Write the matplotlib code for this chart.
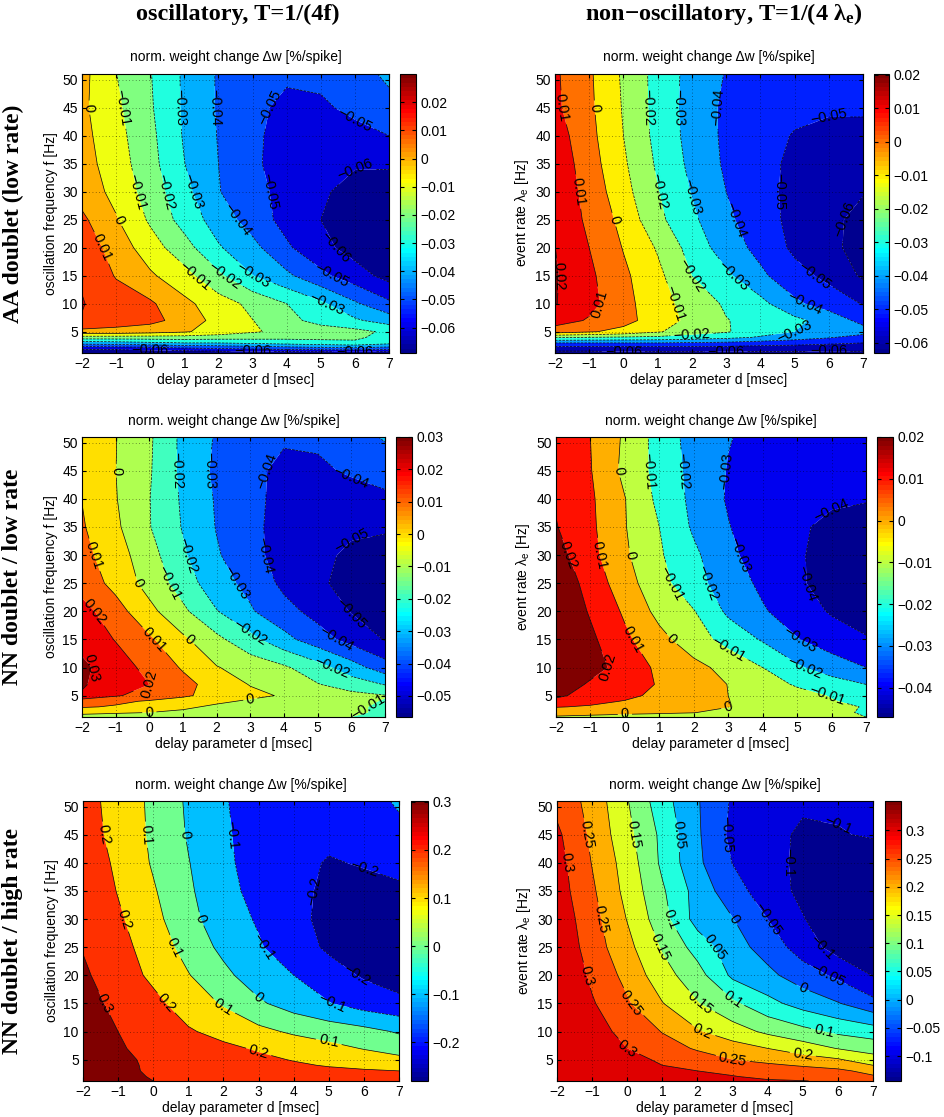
import numpy as np
import matplotlib
matplotlib.use('Agg')
import matplotlib.pyplot as plt
from matplotlib import colors as mcolors
from matplotlib.cm import ScalarMappable

plt.rcParams['font.family'] = ['Liberation Sans', 'DejaVu Sans']
plt.rcParams['mathtext.fontset'] = 'custom'
plt.rcParams['mathtext.rm'] = 'Liberation Sans'
plt.rcParams['mathtext.it'] = 'Liberation Sans:italic'
plt.rcParams['mathtext.bf'] = 'Liberation Serif:bold'

# grid of the simulation (delay d in ms, frequency / event rate in Hz)
d_ms = [-2, -1, 0, 1, 2, 3, 4, 5, 6, 7]
f_hz = [1.2, 2, 3, 4, 5, 7, 10, 15, 20, 25, 30, 35, 40, 45, 51]

# normalized weight change, rows follow f_hz, columns follow d_ms
dw_aa_osc = [
    [-0.069, -0.069, -0.068, -0.068, -0.067, -0.067, -0.066, -0.066, -0.066, -0.066],
    [-0.058, -0.057, -0.055, -0.052, -0.050, -0.048, -0.046, -0.044, -0.043, -0.045],
    [-0.035, -0.034, -0.032, -0.030, -0.030, -0.028, -0.026, -0.024, -0.022, -0.027],
    [-0.014, -0.014, -0.014, -0.014, -0.015, -0.016, -0.017, -0.017, -0.018, -0.024],
    [0.007, 0.006, 0.004, 0.001, -0.004, -0.009, -0.0125, -0.015, -0.017, -0.022],
    [0.0195, 0.016, 0.013, 0.006, -0.0035, -0.0098, -0.017, -0.0235, -0.0285, -0.0345],
    [0.0205, 0.015, 0.0115, 0.0025, -0.0055, -0.0125, -0.020, -0.028, -0.0385, -0.048],
    [0.019, 0.0093, 0.0015, -0.0065, -0.018, -0.0298, -0.038, -0.0475, -0.0555, -0.0635],
    [0.016, 0.0058, -0.0055, -0.016, -0.029, -0.037, -0.0485, -0.057, -0.064, -0.067],
    [0.012, 0.0008, -0.0115, -0.024, -0.0345, -0.0445, -0.0535, -0.060, -0.066, -0.068],
    [0.006, -0.003, -0.0145, -0.027, -0.0395, -0.047, -0.053, -0.0585, -0.0635, -0.064],
    [0.004, -0.005, -0.0165, -0.0298, -0.040, -0.048, -0.055, -0.058, -0.059, -0.059],
    [0.003, -0.0065, -0.0175, -0.031, -0.0405, -0.048, -0.054, -0.056, -0.054, -0.050],
    [0.002, -0.008, -0.0188, -0.0315, -0.041, -0.047, -0.053, -0.052, -0.047, -0.043],
    [0.003, -0.0098, -0.0195, -0.0315, -0.041, -0.046, -0.048, -0.047, -0.044, -0.038],
]

dw_aa_non = [
    [-0.063, -0.063, -0.062, -0.062, -0.062, -0.062, -0.062, -0.062, -0.062, -0.062],
    [-0.056, -0.056, -0.055, -0.055, -0.055, -0.055, -0.056, -0.056, -0.057, -0.057],
    [-0.040, -0.040, -0.040, -0.040, -0.041, -0.042, -0.044, -0.046, -0.048, -0.050],
    [-0.019, -0.020, -0.021, -0.022, -0.024, -0.027, -0.031, -0.035, -0.039, -0.044],
    [0.005, 0.001, -0.003, -0.009, -0.0155, -0.019, -0.026, -0.030, -0.033, -0.036],
    [0.0145, 0.009, 0.0035, -0.005, -0.0125, -0.0195, -0.024, -0.0275, -0.034, -0.043],
    [0.0205, 0.013, 0.0035, -0.0065, -0.0135, -0.0215, -0.027, -0.038, -0.0445, -0.0505],
    [0.021, 0.012, 0.002, -0.0075, -0.020, -0.028, -0.038, -0.0465, -0.0525, -0.0615],
    [0.0201, 0.010, -0.0005, -0.011, -0.024, -0.035, -0.043, -0.052, -0.058, -0.063],
    [0.0185, 0.0078, -0.003, -0.0175, -0.028, -0.038, -0.0455, -0.053, -0.058, -0.0625],
    [0.0175, 0.0065, -0.0065, -0.0195, -0.0305, -0.040, -0.0465, -0.053, -0.057, -0.0595],
    [0.017, 0.0045, -0.0085, -0.0215, -0.0325, -0.0415, -0.047, -0.052, -0.055, -0.057],
    [0.015, 0.003, -0.010, -0.023, -0.0335, -0.042, -0.047, -0.0505, -0.052, -0.052],
    [0.012, 0.002, -0.0108, -0.0235, -0.034, -0.042, -0.046, -0.048, -0.049, -0.049],
    [0.0115, 0.0015, -0.0115, -0.0235, -0.0335, -0.0405, -0.045, -0.047, -0.048, -0.048],
]

dw_nnlow_osc = [
    [-0.003, -0.004, -0.004, -0.005, -0.006, -0.007, -0.008, -0.009, -0.010, -0.011],
    [0.002, 0.001, 0.0, -0.002, -0.004, -0.006, -0.007, -0.008, -0.009, -0.011],
    [0.011, 0.009, 0.005, 0.002, -0.002, -0.005, -0.007, -0.008, -0.009, -0.011],
    [0.014, 0.012, 0.009, 0.006, 0.002, -0.0015, -0.004, -0.006, -0.008, -0.0105],
    [0.029, 0.021, 0.016, 0.0115, 0.0065, 0.0025, -0.001, -0.004, -0.007, -0.0095],
    [0.031, 0.025, 0.020, 0.013, 0.006, -0.0005, -0.0045, -0.0095, -0.015, -0.0205],
    [0.032, 0.025, 0.017, 0.009, 0.0005, -0.004, -0.0085, -0.016, -0.0255, -0.0355],
    [0.027, 0.0195, 0.0115, 0.0018, -0.0075, -0.017, -0.027, -0.0355, -0.0435, -0.0505],
    [0.0235, 0.014, 0.0028, -0.008, -0.0195, -0.029, -0.0365, -0.0435, -0.0505, -0.0555],
    [0.016, 0.007, -0.0037, -0.0145, -0.0265, -0.0325, -0.0425, -0.0485, -0.053, -0.056],
    [0.013, 0.0045, -0.006, -0.0187, -0.029, -0.0365, -0.0445, -0.048, -0.0515, -0.053],
    [0.011, 0.0018, -0.0095, -0.0207, -0.0305, -0.037, -0.0445, -0.047, -0.0485, -0.049],
    [0.0098, 0.0005, -0.0097, -0.0215, -0.031, -0.037, -0.0435, -0.046, -0.045, -0.042],
    [0.007, 0.0001, -0.009, -0.0225, -0.032, -0.038, -0.042, -0.042, -0.0385, -0.036],
    [0.007, 0.0003, -0.0085, -0.0225, -0.031, -0.036, -0.039, -0.038, -0.034, -0.029],
]

dw_nnlow_non = [
    [-0.001, -0.002, -0.003, -0.003, -0.004, -0.005, -0.006, -0.007, -0.009, -0.010],
    [0.004, 0.003, 0.002, 0.001, 0.0003, -0.003, -0.005, -0.007, -0.009, -0.0105],
    [0.0105, 0.009, 0.0065, 0.004, 0.0025, 0.0003, -0.003, -0.006, -0.008, -0.0105],
    [0.017, 0.0125, 0.0095, 0.006, 0.003, 0.0002, -0.0035, -0.0065, -0.0095, -0.012],
    [0.022, 0.016, 0.0125, 0.0075, 0.0035, 0.0, -0.004, -0.007, -0.0105, -0.014],
    [0.027, 0.0185, 0.013, 0.0095, 0.005, -0.0002, -0.006, -0.011, -0.0155, -0.020],
    [0.030, 0.024, 0.016, 0.008, 0.0028, -0.003, -0.010, -0.0185, -0.025, -0.030],
    [0.030, 0.022, 0.012, 0.003, -0.0055, -0.0135, -0.021, -0.0295, -0.035, -0.039],
    [0.029, 0.019, 0.0085, -0.003, -0.0095, -0.022, -0.029, -0.035, -0.041, -0.0455],
    [0.027, 0.0165, 0.004, -0.0065, -0.0165, -0.025, -0.032, -0.0385, -0.044, -0.046],
    [0.024, 0.013, 0.0015, -0.0088, -0.018, -0.0278, -0.0345, -0.039, -0.043, -0.045],
    [0.0205, 0.012, 0.0005, -0.010, -0.0215, -0.0295, -0.036, -0.039, -0.0415, -0.043],
    [0.019, 0.0115, 0.0003, -0.0125, -0.0225, -0.031, -0.035, -0.037, -0.039, -0.0395],
    [0.017, 0.0105, -0.0025, -0.0135, -0.023, -0.0305, -0.034, -0.036, -0.037, -0.038],
    [0.017, 0.010, -0.0015, -0.014, -0.024, -0.0295, -0.033, -0.035, -0.036, -0.036],
]

dw_nnhigh_osc = [
    [0.39, 0.345, 0.30, 0.285, 0.275, 0.265, 0.255, 0.24, 0.23, 0.22],
    [0.39, 0.34, 0.29, 0.28, 0.27, 0.26, 0.25, 0.235, 0.225, 0.215],
    [0.38, 0.335, 0.28, 0.275, 0.26, 0.245, 0.23, 0.22, 0.21, 0.20],
    [0.375, 0.33, 0.28, 0.268, 0.25, 0.233, 0.213, 0.193, 0.175, 0.16],
    [0.37, 0.325, 0.278, 0.26, 0.24, 0.22, 0.195, 0.17, 0.15, 0.125],
    [0.36, 0.31, 0.27, 0.245, 0.22, 0.19, 0.16, 0.13, 0.095, 0.06],
    [0.345, 0.30, 0.25, 0.21, 0.17, 0.125, 0.085, 0.055, 0.03, -0.01],
    [0.33, 0.28, 0.225, 0.155, 0.09, 0.015, -0.045, -0.095, -0.145, -0.175],
    [0.315, 0.25, 0.18, 0.105, 0.025, -0.055, -0.10, -0.16, -0.21, -0.245],
    [0.295, 0.235, 0.155, 0.065, -0.025, -0.09, -0.155, -0.215, -0.245, -0.255],
    [0.29, 0.215, 0.13, 0.03, -0.055, -0.11, -0.175, -0.225, -0.24, -0.24],
    [0.28, 0.195, 0.11, 0.015, -0.07, -0.13, -0.18, -0.215, -0.22, -0.215],
    [0.27, 0.18, 0.09, 0.004, -0.08, -0.14, -0.18, -0.205, -0.195, -0.175],
    [0.25, 0.165, 0.083, -0.008, -0.085, -0.145, -0.175, -0.185, -0.17, -0.13],
    [0.24, 0.16, 0.08, -0.015, -0.093, -0.14, -0.165, -0.17, -0.145, -0.085],
]

dw_nnhigh_non = [
    [0.42, 0.38, 0.35, 0.33, 0.32, 0.31, 0.305, 0.302, 0.29, 0.27],
    [0.42, 0.37, 0.34, 0.32, 0.31, 0.302, 0.29, 0.28, 0.27, 0.255],
    [0.41, 0.36, 0.33, 0.31, 0.30, 0.29, 0.28, 0.27, 0.26, 0.235],
    [0.405, 0.355, 0.322, 0.30, 0.285, 0.27, 0.258, 0.245, 0.232, 0.20],
    [0.40, 0.35, 0.315, 0.293, 0.27, 0.25, 0.235, 0.22, 0.205, 0.17],
    [0.39, 0.34, 0.30, 0.27, 0.245, 0.222, 0.20, 0.175, 0.148, 0.13],
    [0.38, 0.32, 0.285, 0.248, 0.205, 0.172, 0.14, 0.115, 0.09, 0.075],
    [0.37, 0.305, 0.256, 0.202, 0.153, 0.11, 0.065, 0.03, 0.003, -0.035],
    [0.355, 0.29, 0.235, 0.17, 0.12, 0.04, 0.012, -0.025, -0.06, -0.102],
    [0.345, 0.275, 0.215, 0.145, 0.08, 0.02, -0.02, -0.075, -0.12, -0.14],
    [0.335, 0.268, 0.198, 0.12, 0.03, 0.002, -0.05, -0.097, -0.135, -0.14],
    [0.325, 0.258, 0.185, 0.107, 0.03, -0.03, -0.075, -0.112, -0.13, -0.132],
    [0.32, 0.248, 0.178, 0.09, 0.01, -0.051, -0.085, -0.11, -0.12, -0.118],
    [0.31, 0.24, 0.165, 0.088, 0.007, -0.063, -0.09, -0.105, -0.102, -0.097],
    [0.285, 0.233, 0.153, 0.07, 0.004, -0.056, -0.08, -0.095, -0.095, -0.09],
]

# contour levels and colour ranges (colorbar limits)
levels_aa = [-0.06, -0.05, -0.04, -0.03, -0.02, -0.01, 0.0, 0.01, 0.02]
levels_nnlow_osc = [-0.05, -0.04, -0.03, -0.02, -0.01, 0.0, 0.01, 0.02, 0.03]
levels_nnlow_non = [-0.04, -0.03, -0.02, -0.01, 0.0, 0.01, 0.02]
levels_nnhigh_osc = [-0.2, -0.1, 0.0, 0.1, 0.2, 0.3]
levels_nnhigh_non = [-0.1, -0.05, 0.0, 0.05, 0.1, 0.15, 0.2, 0.25, 0.3]

clim_aa_osc = (-0.069, 0.030)
clim_aa_non = (-0.063, 0.0202)
clim_nnlow_osc = (-0.0565, 0.030)
clim_nnlow_non = (-0.047, 0.020)
clim_nnhigh_osc = (-0.281, 0.302)
clim_nnhigh_non = (-0.144, 0.352)

col_titles = ['oscillatory, T=1/(4f)', r'non$-$oscillatory, T=1/(4 $\mathbf{\lambda}_\mathbf{e}$)']
row_titles = ['AA doublet (low rate)', 'NN doublet / low rate', 'NN doublet / high rate']
panel_title = 'norm. weight change \u0394w [%/spike]'
xlabel = 'delay parameter d [msec]'
ylabels = ['oscillation frequency f [Hz]', r'event rate $\mathrm{\lambda_e}$ [Hz]']

W, H = 945, 1117


def rect(x0, x1, top, bot):
    return [x0 / W, 1 - bot / H, (x1 - x0) / W, (bot - top) / H]


def fmt(v):
    s = '%g' % round(v, 4)
    return s.replace('-', '\u2212')


def matlab_jet(m=64):
    # the classic 64 entry jet table
    n = int(np.ceil(m / 4))
    u = np.r_[np.arange(1, n + 1) / n, np.ones(n - 1), np.arange(n, 0, -1) / n]
    g = int(np.ceil(n / 2)) - int(m % 4 == 1) + np.arange(1, len(u) + 1)
    tab = np.zeros((m, 3))
    for idx, c in ((g + n, 0), (g, 1), (g - n, 2)):
        ok = (idx >= 1) & (idx <= m)
        tab[idx[ok] - 1, c] = u[ok]
    return mcolors.ListedColormap(tab)


def label_spots(ax, cs, step=100, gap=27):
    # spread labels along every contour line, about one per `step` pixels
    spots = []
    tr = ax.transData
    for path in cs.get_paths():
        for line in path.to_polygons(closed_only=False):
            if len(line) < 2:
                continue
            xy = tr.transform(line)
            s = np.r_[0, np.cumsum(np.hypot(*np.diff(xy, axis=0).T))]
            if s[-1] < 40:
                continue
            k = max(1, int(round(s[-1] / step)))
            for t in (np.arange(k) + 0.5) * s[-1] / k:
                p = xy[min(np.searchsorted(s, t), len(xy) - 1)]
                if all(np.hypot(*(p - q)) > gap for q in spots):
                    spots.append(p)
    return [tuple(tr.inverted().transform(p)) for p in spots]


panels = [
    (dw_aa_osc, levels_aa, clim_aa_osc, 0, rect(82, 389, 74, 353), rect(400, 416, 74, 353)),
    (dw_aa_non, levels_aa, clim_aa_non, 1, rect(555, 863, 74, 353), rect(874, 889, 74, 353)),
    (dw_nnlow_osc, levels_nnlow_osc, clim_nnlow_osc, 0, rect(82, 385, 437, 717), rect(396, 412, 437, 717)),
    (dw_nnlow_non, levels_nnlow_non, clim_nnlow_non, 1, rect(556, 866, 437, 717), rect(877, 893, 437, 717)),
    (dw_nnhigh_osc, levels_nnhigh_osc, clim_nnhigh_osc, 0, rect(83, 399, 801, 1081), rect(411, 428, 801, 1081)),
    (dw_nnhigh_non, levels_nnhigh_non, clim_nnhigh_non, 1, rect(557, 873, 801, 1081), rect(885, 901, 801, 1081)),
]

cmap = matlab_jet(64)
D, F = np.meshgrid(d_ms, f_hz)

fig = plt.figure(figsize=(W / 100, H / 100), dpi=100)

for Z, lv, clim, col, arect, crect in panels:
    Z = np.array(Z)
    norm = mcolors.Normalize(vmin=clim[0], vmax=clim[1])

    def band_colour(v):
        i = int(np.floor(np.clip(norm(v), 0, 1) * cmap.N))
        return cmap.colors[min(i, cmap.N - 1)]

    # each band takes the colour of its lower level, as MATLAB's contourf does
    fills = [cmap.colors[0]] + [band_colour(l) for l in lv]
    ax = fig.add_axes(arect)
    ax.set_xlim(-2, 7)
    ax.set_ylim(1.2, 51)
    ax.contourf(D, F, Z, levels=lv, colors=fills, extend='both', antialiased=True)
    cs = ax.contour(D, F, Z, levels=lv, colors='k', linewidths=0.5)
    ax.clabel(cs, fmt=fmt, fontsize=10.5, inline=True, inline_spacing=3,
              manual=label_spots(ax, cs))
    ax.set_xlim(-2, 7)
    ax.set_ylim(1.2, 51)
    ax.set_xticks(range(-2, 8))
    ax.set_yticks(range(5, 51, 5))
    ax.grid(True, color='k', linestyle=(0, (1, 3)), linewidth=0.6, alpha=0.55)
    ax.set_axisbelow(False)
    ax.tick_params(direction='in', length=3, top=True, right=True, labelsize=10, pad=3)
    ax.set_title(panel_title, fontsize=10, pad=9)
    ax.set_xlabel(xlabel, fontsize=10, labelpad=1)
    ax.set_ylabel(ylabels[col], fontsize=10, labelpad=3)

    cax = fig.add_axes(crect)
    cb = fig.colorbar(ScalarMappable(norm=norm, cmap=cmap), cax=cax)
    cb.set_ticks(lv)
    cb.set_ticklabels([fmt(l) for l in lv])
    cax.tick_params(direction='in', length=3, left=True, right=True, labelsize=10, pad=3)
    cb.outline.set_linewidth(0.8)

fig.text(238 / W, 1 - 14 / H, col_titles[0], ha='center', va='center',
         family='Liberation Serif', weight='bold', fontsize=17.5)
fig.text(724 / W, 1 - 14 / H, col_titles[1], ha='center', va='center',
         family='Liberation Serif', weight='bold', fontsize=17.5)
for i, y in enumerate([214, 577, 941]):
    fig.text(13 / W, 1 - y / H, row_titles[i], ha='center', va='center', rotation=90,
             family='Liberation Serif', weight='bold', fontsize=17)

fig.savefig('out.png', dpi=100)
